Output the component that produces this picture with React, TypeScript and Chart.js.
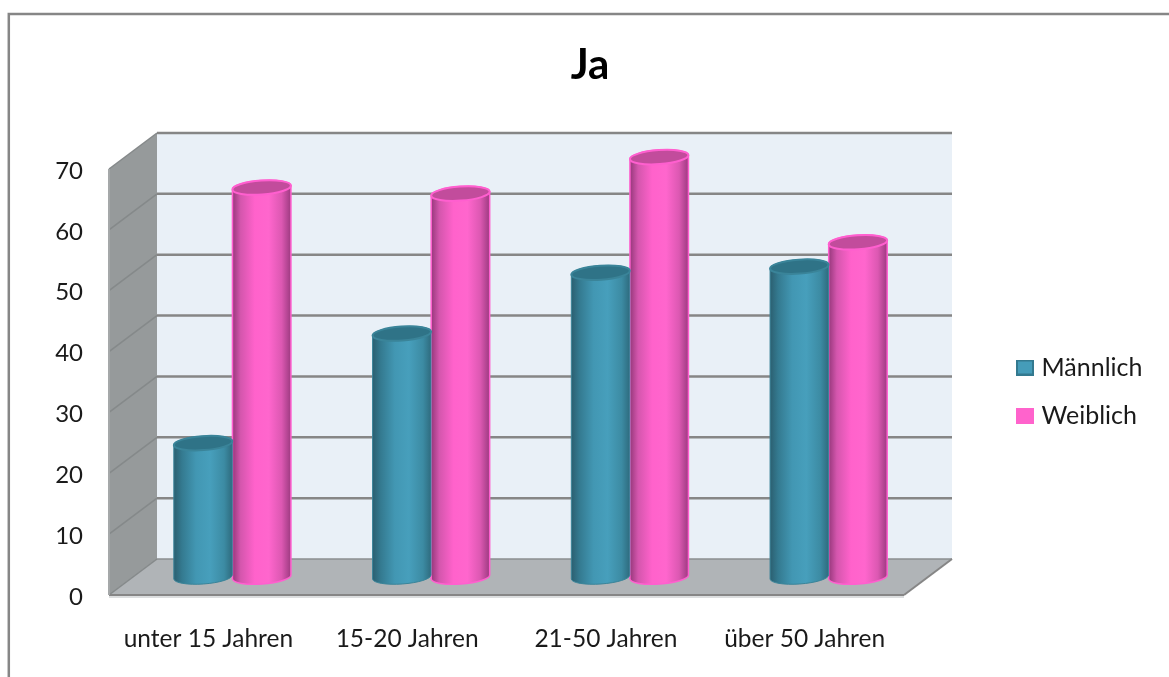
import React, { useEffect, useRef } from "react";
import { Chart, BarController, BarElement, registerables } from "chart.js";

const categories = ["unter 15 Jahren", "15-20 Jahren", "21-50 Jahren", "über 50 Jahren"];
const maleValues = [22, 40, 50, 51];
const femaleValues = [64, 63, 69, 55];
const yTicks = [0, 10, 20, 30, 40, 50, 60, 70];

const FONT = "Lato, Carlito, sans-serif";
const MALE = "#459cb9";
const FEMALE = "#ff63cc";

// Half of the visual depth of the 3D box, in pixels.
const DEPTH_X = 24;
const DEPTH_Y = 18;

type Shade = { rim: string; cap: string; stops: [number, string][]; rimWidth: number };

const SHADES: Record<string, Shade> = {
  [MALE]: {
    rim: "#3a8499",
    cap: "#2f7387",
    rimWidth: 1,
    stops: [
      [0, "#2b5f70"],
      [0.14, "#347a90"],
      [0.38, "#4297b3"],
      [0.62, "#479fbc"],
      [0.86, "#3c8ba3"],
      [1, "#2e6b7e"],
    ],
  },
  [FEMALE]: {
    rim: "#ff5fcf",
    cap: "#c24c9c",
    rimWidth: 1.5,
    stops: [
      [0, "#96387b"],
      [0.14, "#d456ad"],
      [0.38, "#ff62cb"],
      [0.62, "#ff66cd"],
      [0.84, "#dc58b2"],
      [1, "#9c3a80"],
    ],
  },
};

// A bar element that paints itself as a shaded upright cylinder.
class CylinderElement extends BarElement {
  static id = "cylinder";

  draw(ctx: CanvasRenderingContext2D) {
    const { x, y, base, width, options } = this as any;
    const shade = SHADES[options.backgroundColor];
    const rx = width / 2;
    const ry = 7;
    const tilt = -0.07;
    const body = ctx.createLinearGradient(x - rx, 0, x + rx, 0);
    shade.stops.forEach(([at, color]) => body.addColorStop(at, color));

    ctx.save();
    ctx.beginPath();
    ctx.ellipse(x, base, rx, ry, tilt, 0, Math.PI);
    ctx.ellipse(x, y, rx, ry, tilt, Math.PI, Math.PI * 2);
    ctx.closePath();
    ctx.fillStyle = body;
    ctx.fill();
    ctx.strokeStyle = shade.rim;
    ctx.lineWidth = shade.rimWidth;
    ctx.stroke();

    ctx.beginPath();
    ctx.ellipse(x, y, rx, ry, tilt, 0, Math.PI * 2);
    ctx.fillStyle = shade.cap;
    ctx.fill();
    ctx.strokeStyle = shade.rim;
    ctx.lineWidth = 2;
    ctx.stroke();
    ctx.restore();
  }
}

class CylinderController extends BarController {
  static id = "cylinderBar";
  static defaults = { ...BarController.defaults, dataElementType: "cylinder" };
}

Chart.register(...registerables, CylinderElement, CylinderController);

// Outer frame of the chart object: only its top and left edges are in view.
const framePlugin = {
  id: "frame",
  beforeDraw(chart: any) {
    const { ctx, width, height } = chart;
    ctx.save();
    ctx.fillStyle = "#ffffff";
    ctx.fillRect(0, 0, width, height);
    ctx.strokeStyle = "#868686";
    ctx.lineWidth = 2.5;
    ctx.beginPath();
    ctx.moveTo(8.8, height);
    ctx.lineTo(8.8, 14);
    ctx.lineTo(width, 14);
    ctx.stroke();
    ctx.restore();
  },
};

// Back wall, side wall, floor and gridlines of the 3D box, placed from the scales.
const boxPlugin = {
  id: "box",
  beforeDatasetsDraw(chart: any) {
    const { ctx, chartArea, scales } = chart;
    const yScale = scales.y;
    const { left, right } = chartArea;
    const top = yScale.getPixelForValue(70);
    const bottom = yScale.getPixelForValue(0);
    const backL = left + DEPTH_X;
    const backR = right + DEPTH_X;
    const frontL = left - DEPTH_X;
    const frontR = right - DEPTH_X;

    const poly = (points: number[][], fill: string) => {
      ctx.beginPath();
      points.forEach(([px, py], i) => (i ? ctx.lineTo(px, py) : ctx.moveTo(px, py)));
      ctx.closePath();
      ctx.fillStyle = fill;
      ctx.fill();
    };
    const line = (x1: number, y1: number, x2: number, y2: number, color: string, w: number) => {
      ctx.beginPath();
      ctx.moveTo(x1, y1);
      ctx.lineTo(x2, y2);
      ctx.strokeStyle = color;
      ctx.lineWidth = w;
      ctx.stroke();
    };

    ctx.save();
    poly(
      [[backL, top - DEPTH_Y], [backR, top - DEPTH_Y], [backR, bottom - DEPTH_Y], [backL, bottom - DEPTH_Y]],
      "#e9f0f7",
    );
    poly(
      [[frontL, top + DEPTH_Y], [backL, top - DEPTH_Y], [backL, bottom - DEPTH_Y], [frontL, bottom + DEPTH_Y]],
      "#969a9b",
    );
    poly(
      [[frontL, bottom + DEPTH_Y], [backL, bottom - DEPTH_Y], [backR, bottom - DEPTH_Y], [frontR, bottom + DEPTH_Y]],
      "#b0b4b7",
    );

    yTicks.forEach((tick) => {
      const py = yScale.getPixelForValue(tick);
      line(frontL, py + DEPTH_Y, backL, py - DEPTH_Y, "#85898a", 1.5);
      if (tick > 0) line(backL, py - DEPTH_Y, backR, py - DEPTH_Y, "#868686", 2.5);
    });
    line(backL, bottom - DEPTH_Y, backR, bottom - DEPTH_Y, "#8b8f91", 1.5);
    line(frontL, bottom + DEPTH_Y + 2, frontR, bottom + DEPTH_Y + 2, "#dcdedf", 2);
    line(frontL, bottom + DEPTH_Y, frontR, bottom + DEPTH_Y, "#868686", 2);
    line(frontR, bottom + DEPTH_Y, backR, bottom - DEPTH_Y, "#868686", 2);
    line(frontL, top + DEPTH_Y, frontL, bottom + DEPTH_Y, "#a5a8a9", 2);
    ctx.restore();
  },
};

// Moves the title and legend to their final spots once the plot area is fixed.
const placementPlugin = {
  id: "placement",
  afterLayout(chart: any) {
    const { legend, titleBlock } = chart;
    legend.left = 1021 - legend.options.labels.padding;
    legend.right = chart.width;
    legend.top += 53;
    legend.bottom += 53;
    titleBlock.left = 0;
    titleBlock.right = 1180;
  },
};

function swatch(fill: string, edge: string) {
  const c = document.createElement("canvas");
  c.width = 18;
  c.height = 16;
  const g = c.getContext("2d") as CanvasRenderingContext2D;
  g.fillStyle = edge;
  g.fillRect(0, 0, 18, 16);
  g.fillStyle = fill;
  g.fillRect(2, 2, 14, 12);
  return c;
}

export default function App() {
  const ref = useRef<HTMLCanvasElement>(null);

  useEffect(() => {
    const textColor = "#1a1a1a";
    const chart = new Chart(ref.current as HTMLCanvasElement, {
      type: "cylinderBar" as any,
      data: {
        labels: categories,
        datasets: [
          { label: "Männlich", data: maleValues, backgroundColor: MALE, clip: false },
          { label: "Weiblich", data: femaleValues, backgroundColor: FEMALE, clip: false },
        ],
      },
      plugins: [framePlugin, boxPlugin, placementPlugin],
      options: {
        responsive: false,
        animation: false,
        layout: { padding: { left: 0, right: 141, top: 0, bottom: 0 } },
        datasets: {
          cylinderBar: { categoryPercentage: 0.59, barPercentage: 1 },
        } as any,
        plugins: {
          tooltip: { enabled: false },
          title: {
            display: true,
            text: "Ja",
            color: "#000000",
            font: { family: FONT, size: 42, weight: "bold" },
            padding: { top: 40, bottom: 60.6 },
          },
          legend: {
            position: "right",
            maxWidth: 100,
            labels: {
              color: textColor,
              font: { family: FONT, size: 25 },
              padding: 23,
              usePointStyle: true,
              boxWidth: 8,
              boxHeight: 8,
              generateLabels: () => [
                { text: "Männlich", fontColor: textColor, pointStyle: swatch(MALE, "#33798f"), fillStyle: MALE, lineWidth: 0, hidden: false, datasetIndex: 0 },
                { text: "Weiblich", fontColor: textColor, pointStyle: swatch(FEMALE, "#ff63cc"), fillStyle: FEMALE, lineWidth: 0, hidden: false, datasetIndex: 1 },
              ],
            },
          },
        },
        scales: {
          x: {
            grid: { display: false },
            border: { display: false },
            afterFit: (scale: any) => {
              scale.height = 100;
            },
            ticks: {
              color: textColor,
              font: { family: FONT, size: 24.5 },
              padding: 39,
              labelOffset: -DEPTH_X,
              maxRotation: 0,
              autoSkip: false,
            },
          },
          y: {
            min: 0,
            max: 70,
            grid: { display: false },
            border: { display: false },
            afterFit: (scale: any) => {
              scale.width = 133;
            },
            afterBuildTicks: (scale: any) => {
              scale.ticks = yTicks.map((value) => ({ value }));
            },
            ticks: {
              color: textColor,
              font: { family: FONT, size: 24 },
              padding: 42,
              labelOffset: DEPTH_Y + 2,
            },
          },
        },
      } as any,
    });
    return () => chart.destroy();
  }, []);

  return (
    <div style={{ position: "absolute", left: 0, top: 0, width: 1169, height: 677 }}>
      <canvas ref={ref} width={1169} height={677} style={{ display: "block" }} />
    </div>
  );
}
